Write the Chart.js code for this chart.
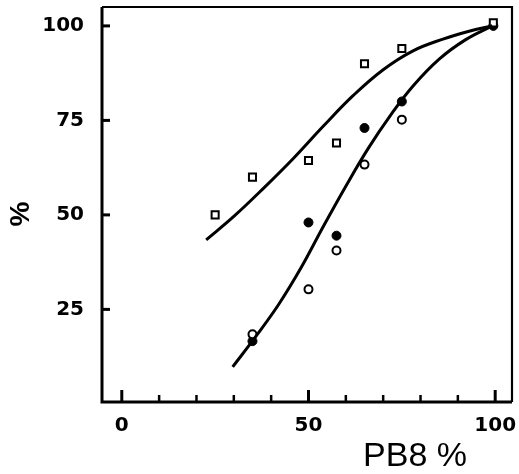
<!DOCTYPE html>
<html>
<head>
<meta charset="UTF-8">
<title>PB8 %</title>
<script src="https://cdn.jsdelivr.net/npm/chart.js"></script>
<style>
  html, body { margin: 0; padding: 0; background: #fff; }
  #wrap { width: 519px; height: 474px; }
</style>
</head>
<body>
<div id="wrap"><canvas id="pb8Chart" width="519" height="474"></canvas></div>
<script>
// measured points
const squarePb8 = [25, 35, 50, 57.5, 65, 75, 99.5];
const squareVals = [50, 60, 64.4, 69, 90, 94, 100.8];
const filledPb8 = [35, 50, 57.5, 65, 75, 99.5];
const filledVals = [16.6, 48, 44.5, 73, 80, 100];
const openPb8 = [35, 50, 57.5, 65, 75];
const openVals = [18.4, 30.3, 40.6, 63.3, 75.2];

// hand drawn fitted curves
const upperPb8 = [22.6, 30, 38, 46, 54, 62, 70, 78, 86, 93, 99.2];
const upperVals = [43.4, 49.6, 57.1, 65, 73.5, 81.6, 88.4, 93.4, 96.5, 98.6, 100];
const lowerPb8 = [29.7, 36, 42, 48, 54, 60, 66, 72, 78, 85, 92, 99.2];
const lowerVals = [9.8, 18, 26.3, 36, 47, 57.6, 67.6, 76.4, 84.1, 91.2, 96.3, 100];

const xTickStep = 10;
const yTickStep = 25;

function pts(xs, ys) {
    return xs.map((x, i) => ({ x: x, y: ys[i] }));
}

const frameAndTicks = {
    id: 'frameAndTicks',
    beforeDatasetsDraw(chart) {
        const { ctx, chartArea: a, scales } = chart;
        ctx.save();
        ctx.strokeStyle = '#000';
        ctx.lineCap = 'butt';
        // box round the plot
        ctx.lineWidth = 3;
        ctx.beginPath();
        ctx.moveTo(a.left, a.top); ctx.lineTo(a.left, a.bottom); ctx.lineTo(a.right, a.bottom);
        ctx.stroke();
        ctx.lineWidth = 2.2;
        ctx.beginPath();
        ctx.moveTo(a.left, a.top); ctx.lineTo(a.right, a.top); ctx.lineTo(a.right, a.bottom);
        ctx.stroke();
        // inward tick marks
        scales.x.ticks.forEach(t => {
            const px = scales.x.getPixelForValue(t.value);
            const major = t.value % 50 === 0;
            ctx.lineWidth = major ? 3 : 2.5;
            ctx.beginPath();
            ctx.moveTo(px, a.bottom);
            ctx.lineTo(px, a.bottom - (major ? 12 : 7));
            ctx.stroke();
        });
        scales.y.ticks.forEach(t => {
            const py = scales.y.getPixelForValue(t.value);
            ctx.lineWidth = 3;
            ctx.beginPath();
            ctx.moveTo(a.left, py);
            ctx.lineTo(a.left + 8, py);
            ctx.stroke();
        });
        ctx.restore();
    },
    afterDraw(chart) {
        const ctx = chart.ctx;
        ctx.save();
        ctx.fillStyle = '#000';
        ctx.textAlign = 'center';
        ctx.textBaseline = 'middle';
        ctx.font = '34px "Liberation Sans"';
        ctx.fillText('PB8 %', 415, 457);
        ctx.translate(21, 214);
        ctx.rotate(-Math.PI / 2);
        ctx.font = 'bold 28px "Liberation Sans"';
        ctx.fillText('%', 0, 0);
        ctx.restore();
    }
};

const tickFont = { family: 'DejaVu Sans', size: 20, weight: 'bold' };

const ctx = document.getElementById('pb8Chart').getContext('2d');
const chart = new Chart(ctx, {
    type: 'scatter',
    data: {
        datasets: [
            {
                data: pts(upperPb8, upperVals),
                showLine: true,
                tension: 0.4,
                borderColor: '#000',
                borderWidth: 3,
                pointRadius: 0
            },
            {
                data: pts(lowerPb8, lowerVals),
                showLine: true,
                tension: 0.4,
                borderColor: '#000',
                borderWidth: 3,
                pointRadius: 0
            },
            {
                data: pts(squarePb8, squareVals),
                pointStyle: 'rect',
                pointRadius: 5,
                borderColor: '#000',
                backgroundColor: '#fff',
                borderWidth: 2
            },
            {
                data: pts(openPb8, openVals),
                pointStyle: 'circle',
                pointRadius: 4,
                borderColor: '#000',
                backgroundColor: '#fff',
                borderWidth: 2
            },
            {
                data: pts(filledPb8, filledVals),
                pointStyle: 'circle',
                pointRadius: 4.5,
                borderColor: '#000',
                backgroundColor: '#000',
                borderWidth: 1
            }
        ]
    },
    options: {
        responsive: false,
        animation: false,
        events: [],
        layout: { padding: { top: 6, right: 7, left: 0, bottom: 0 } },
        plugins: {
            legend: { display: false },
            tooltip: { enabled: false }
        },
        scales: {
            x: {
                type: 'linear',
                min: -5.3,
                max: 104.5,
                border: { display: false },
                grid: { display: false },
                ticks: {
                    stepSize: xTickStep,
                    includeBounds: false,
                    autoSkip: false,
                    maxRotation: 0,
                    color: '#000',
                    font: tickFont,
                    padding: 4,
                    callback: v => (v % 50 === 0 ? String(v) : '')
                },
                afterFit(scale) {
                    scale.height = 72;
                    scale.paddingLeft = 0;
                    scale.paddingRight = 0;
                }
            },
            y: {
                type: 'linear',
                min: 0.5,
                max: 105,
                border: { display: false },
                grid: { display: false },
                ticks: {
                    stepSize: yTickStep,
                    includeBounds: false,
                    color: '#000',
                    font: tickFont,
                    padding: 10
                },
                afterFit(scale) {
                    scale.width = 102;
                    scale.paddingTop = 0;
                    scale.paddingBottom = 0;
                }
            }
        }
    },
    plugins: [frameAndTicks]
});
</script>
</body>
</html>
